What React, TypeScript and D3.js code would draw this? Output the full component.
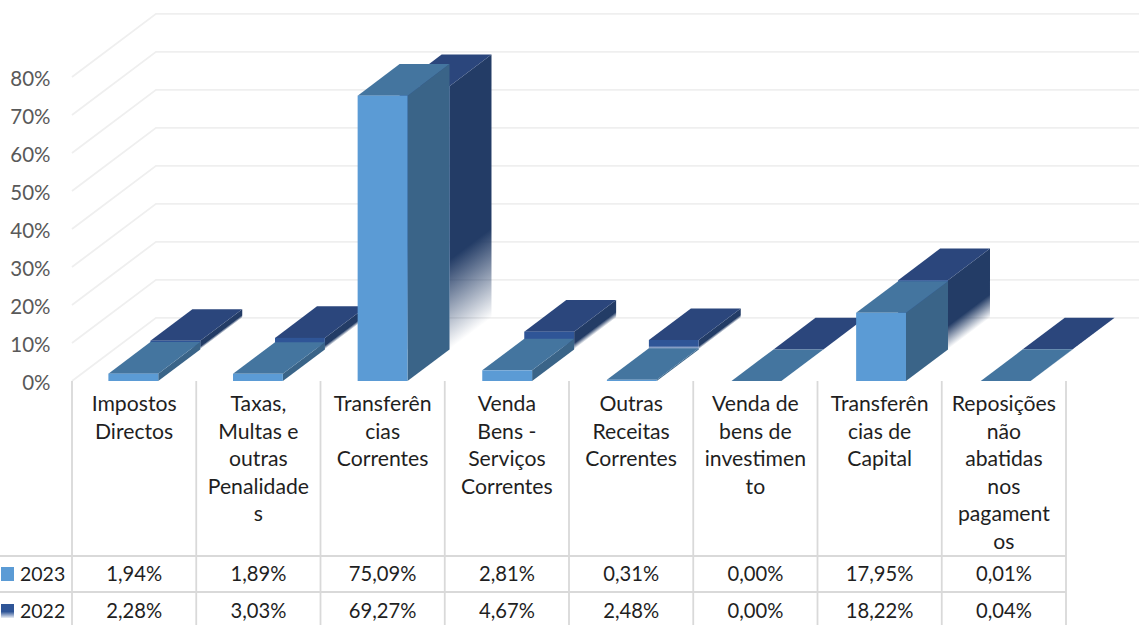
import React from "react";
import * as d3 from "d3";

const categoryLines = [
  ["Impostos", "Directos"],
  ["Taxas,", "Multas e", "outras", "Penalidade", "s"],
  ["Transferên", "cias", "Correntes"],
  ["Venda", "Bens -", "Serviços", "Correntes"],
  ["Outras", "Receitas", "Correntes"],
  ["Venda de", "bens de", "investimen", "to"],
  ["Transferên", "cias de", "Capital"],
  ["Reposições", "não", "abatidas", "nos", "pagament", "os"],
];
const values2023 = [1.94, 1.89, 75.09, 2.81, 0.31, 0.0, 17.95, 0.01];
const values2022 = [2.28, 3.03, 69.27, 4.67, 2.48, 0.0, 18.22, 0.04];
const yTicks = [0, 10, 20, 30, 40, 50, 60, 70, 80];

const W = 1139, H = 625;
const FONT = "Lato, Carlito, 'Open Sans', sans-serif";
const depth = { x: 42, y: -31.6 };
const y0 = 381;
const grid = "#efefef", rule = "#d9d9d9", ink = "#1f1f1f";

const idx = categoryLines.map((_, i) => i);
const h = d3.scaleLinear().domain([0, 80]).range([0, 304]);
const xBar = d3.scaleBand<number>().domain(idx).range([71, 1068]).paddingInner(0.6).paddingOuter(0.3);
const xCol = d3.scaleBand<number>().domain(idx).range([72, 1066]);
const locale = d3.formatLocale({ decimal: ",", thousands: ".", grouping: [3], currency: ["", ""] });
const pct = (v: number) => locale.format(".2f")(v) + "%";
const pts = (p: number[][]) => p.map((q) => q.join(",")).join(" ");

type Palette = { front: string; top: string; side: string };
const pal2023: Palette = { front: "#5b9bd5", top: "#44759f", side: "#3a6488" };
const pal2022: Palette = { front: "#2f5597", top: "#2b467c", side: "#233c66" };

function Bar({ i, v, layer, p, id }: { i: number; v: number; layer: number; p: Palette; id: string }) {
  const bw = xBar.bandwidth();
  const x = (xBar(i) as number) + layer * depth.x;
  const base = y0 + layer * depth.y;
  const ht = h(v);
  const top = base - ht;
  const fade = layer === 1;
  // iso-colour lines of the fade run parallel to the bar's lower side edge
  const nx = -depth.y, ny = depth.x;
  const k = (ht * ny) / (nx * nx + ny * ny);
  const gx = x + bw, gy = top;
  return (
    <g>
      {fade && (
        <defs>
          <linearGradient id={id} gradientUnits="userSpaceOnUse" x1={gx} y1={gy} x2={gx + nx * k} y2={gy + ny * k}>
            <stop offset="0" stopColor={p.side} />
            <stop offset="0.66" stopColor={p.side} />
            <stop offset="1" stopColor={p.side} stopOpacity={0} />
          </linearGradient>
          <linearGradient id={`${id}-front`} x1="0" y1="0" x2="0" y2="1">
            <stop offset="0" stopColor={p.front} />
            <stop offset="0.6" stopColor={p.front} />
            <stop offset="1" stopColor="#dfe6f2" />
          </linearGradient>
        </defs>
      )}
      <polygon
        points={pts([[x + bw, top], [x + bw + depth.x, top + depth.y], [x + bw + depth.x, base + depth.y], [x + bw, base]])}
        fill={fade ? `url(#${id})` : p.side}
      />
      <polygon
        points={pts([[x, top], [x + depth.x, top + depth.y], [x + bw + depth.x, top + depth.y], [x + bw, top]])}
        fill={p.top}
      />
      <rect x={x} y={top} width={bw} height={ht} fill={fade ? `url(#${id}-front)` : p.front} />
    </g>
  );
}

export default function App() {
  return (
    <svg
      width={W}
      height={H}
      viewBox={`0 0 ${W} ${H}`}
      style={{ position: "absolute", left: 0, top: 0, display: "block", background: "#fff" }}
      fontFamily={FONT}
    >
      <defs>
        <linearGradient id="legend22" x1="0" y1="0" x2="0" y2="1">
          <stop offset="0" stopColor="#2f5597" />
          <stop offset="0.55" stopColor="#2f5597" />
          <stop offset="1" stopColor="#2f5597" stopOpacity={0.1} />
        </linearGradient>
      </defs>

      {yTicks.map((t) => {
        const yf = y0 - h(t);
        return (
          <g key={t}>
            <polyline
              points={pts([[72, yf], [72 + 2 * depth.x, yf + 2 * depth.y], [W, yf + 2 * depth.y]])}
              fill="none"
              stroke={grid}
              strokeWidth={1.8}
            />
            <text x={50.5} y={yf + 1.5} dy="0.35em" textAnchor="end" fontSize={20.5} fill="#595959">
              {t}%
            </text>
          </g>
        );
      })}

      {idx.map((i) => (
        <Bar key={i} i={i} v={values2022[i]} layer={1} p={pal2022} id={`f22-${i}`} />
      ))}
      {idx.map((i) => (
        <Bar key={i} i={i} v={values2023[i]} layer={0} p={pal2023} id={`f23-${i}`} />
      ))}

      {d3.range(idx.length + 1).map((i) => {
        const x = 72 + i * xCol.step();
        return <line key={i} x1={x} x2={x} y1={y0} y2={H} stroke={rule} strokeWidth={1.8} />;
      })}
      {[556, 592].map((y) => (
        <line key={y} x1={0} x2={1066} y1={y} y2={y} stroke={rule} strokeWidth={1.8} />
      ))}

      {categoryLines.map((lines, i) =>
        lines.map((s, j) => (
          <text
            key={j}
            x={(xCol(i) as number) + xCol.bandwidth() / 2}
            y={404 + j * 27.5}
            dy="0.35em"
            textAnchor="middle"
            fontSize={21.2}
            fill={ink}
          >
            {s}
          </text>
        ))
      )}

      {[
        { name: "2023", vals: values2023, y: 574, fill: "#5b9bd5" },
        { name: "2022", vals: values2022, y: 611, fill: "url(#legend22)" },
      ].map((r) => (
        <g key={r.name}>
          <rect x={1} y={r.y - 7} width={13} height={14} fill={r.fill} />
          <text x={20} y={r.y} dy="0.35em" fontSize={19.5} fill={ink}>
            {r.name}
          </text>
          {r.vals.map((v, i) => (
            <text
              key={i}
              x={(xCol(i) as number) + xCol.bandwidth() / 2}
              y={r.y}
              dy="0.35em"
              textAnchor="middle"
              fontSize={20.2}
              fill={ink}
            >
              {pct(v)}
            </text>
          ))}
        </g>
      ))}
    </svg>
  );
}
